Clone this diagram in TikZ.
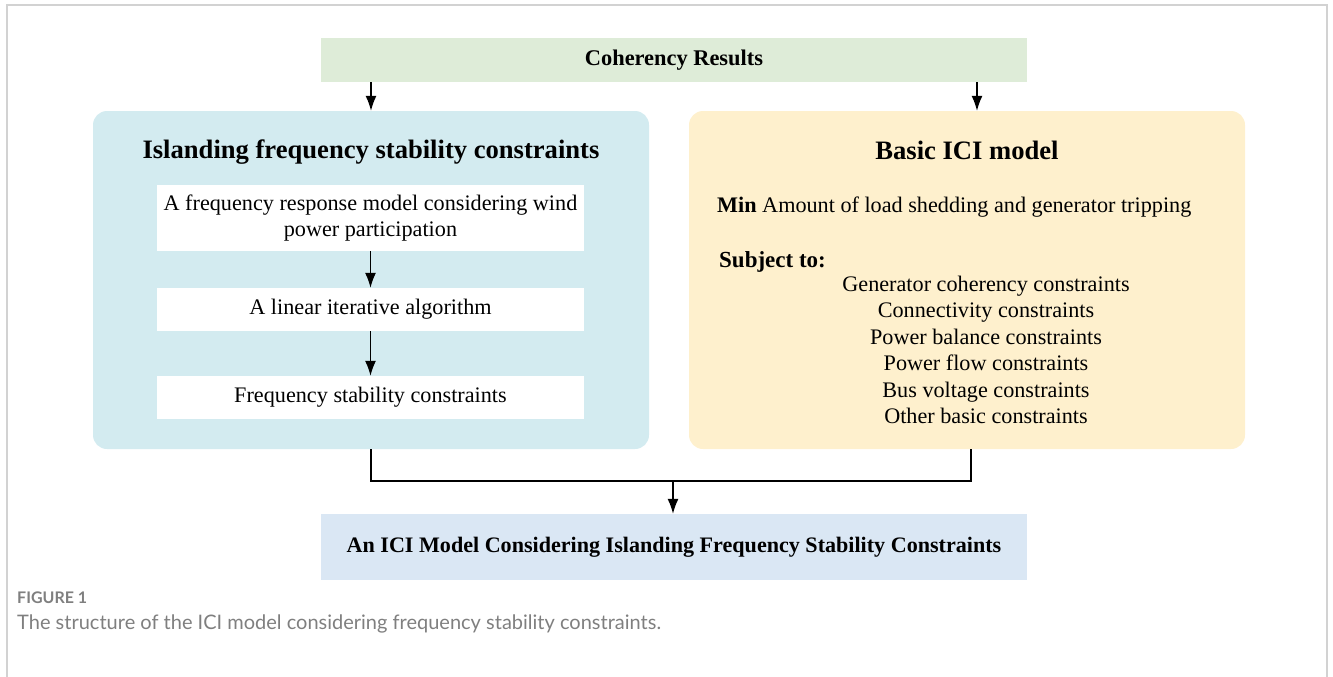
\documentclass[tikz,border=0pt]{standalone}
\usepackage{fontspec}
\setmainfont{Liberation Serif}
\newfontfamily\capfont{Lato}
\usetikzlibrary{arrows.meta}
\definecolor{greenfill}{HTML}{DEECD8}
\definecolor{bluefill}{HTML}{D3EBF0}
\definecolor{orangefill}{HTML}{FEF0CD}
\definecolor{botfill}{HTML}{DAE7F4}
\definecolor{framegray}{HTML}{D2D2D2}
\definecolor{capgray}{HTML}{7F7F7F}
\begin{document}
\begin{tikzpicture}[x=1pt,y=-1pt,
  flat/.style={draw=none, inner sep=0pt, align=center},
  panel/.style={draw=none, inner sep=0pt, rounded corners=14pt, minimum width=556pt, minimum height=338pt},
  whitebox/.style={fill=white, draw=none, inner sep=0pt, align=center, minimum width=427pt},
  txt/.style={inner sep=0pt, font=\fontsize{22.2}{26.4}\selectfont},
  arr/.style={-{Latex[length=15pt,width=11pt]}, line width=1.3pt},
  link/.style={line width=1.3pt}
]
\useasboundingbox (0,0) rectangle (1333,677);
% frame
\draw[framegray, line width=1.5pt] (7,677) -- (7,5) -- (1327,5) -- (1327,677);

\node[flat, fill=greenfill, minimum width=706pt, minimum height=44pt,
  font=\fontsize{22.4}{26}\selectfont\bfseries] (coh) at (674,60) {Coherency Results};

\node[panel, fill=bluefill] (isl) at (371,280) {};
\node[panel, fill=orangefill] (ici) at (967,280) {};

\node[txt, font=\fontsize{26.6}{30}\selectfont\bfseries] (islt) at (371,152) {Islanding frequency stability constraints};
\node[whitebox, minimum height=66pt, txt] (w1) at (370.5,218) {A frequency response model considering wind\\power participation};
\node[whitebox, minimum height=43pt, txt] (w2) at (370.5,309.5) {A linear iterative algorithm};
\node[whitebox, minimum height=43pt, txt] (w3) at (370.5,397.5) {Frequency stability constraints};

\node[txt, font=\fontsize{26.6}{30}\selectfont\bfseries] (icit) at (967,150) {Basic ICI model};
\node[txt, anchor=west] (min) at (717,207) {\textbf{Min} Amount of load shedding and generator tripping};
\node[txt, anchor=west, font=\fontsize{23}{26}\selectfont\bfseries] (subj) at (719,262) {Subject to:};
\node[txt, align=center] (list) at (986,350) {Generator coherency constraints\\Connectivity constraints\\Power balance constraints\\Power flow constraints\\Bus voltage constraints\\Other basic constraints};

\node[flat, fill=botfill, minimum width=706pt, minimum height=66pt,
  font=\fontsize{22.1}{26}\selectfont\bfseries] (res) at (674,547) {An ICI Model Considering Islanding Frequency Stability Constraints};

% connectors
\draw[arr] (isl.north |- coh.south) -- (isl.north);
\draw[arr] ([xshift=10pt]ici.north |- coh.south) -- ([xshift=10pt]ici.north);
\draw[arr] (w1) -- (w2);
\draw[arr] (w2) -- (w3);
\coordinate (j) at (673,481);
\draw[link] (isl.south) -- (isl.south |- j) -- ([xshift=4pt]ici.south |- j) -- ([xshift=4pt]ici.south);
\draw[arr] (j) -- (j |- res.north);

% caption
\node[anchor=west, inner sep=0pt, text=capgray, font=\capfont\bfseries\fontsize{16}{19}\selectfont] (fig) at (17,598) {FIGURE 1};
\node[anchor=west, inner sep=0pt, text=capgray, font=\capfont\fontsize{20}{23}\selectfont] (cap) at (17,624) {The structure of the ICI model considering frequency stability constraints.};
\end{tikzpicture}
\end{document}
